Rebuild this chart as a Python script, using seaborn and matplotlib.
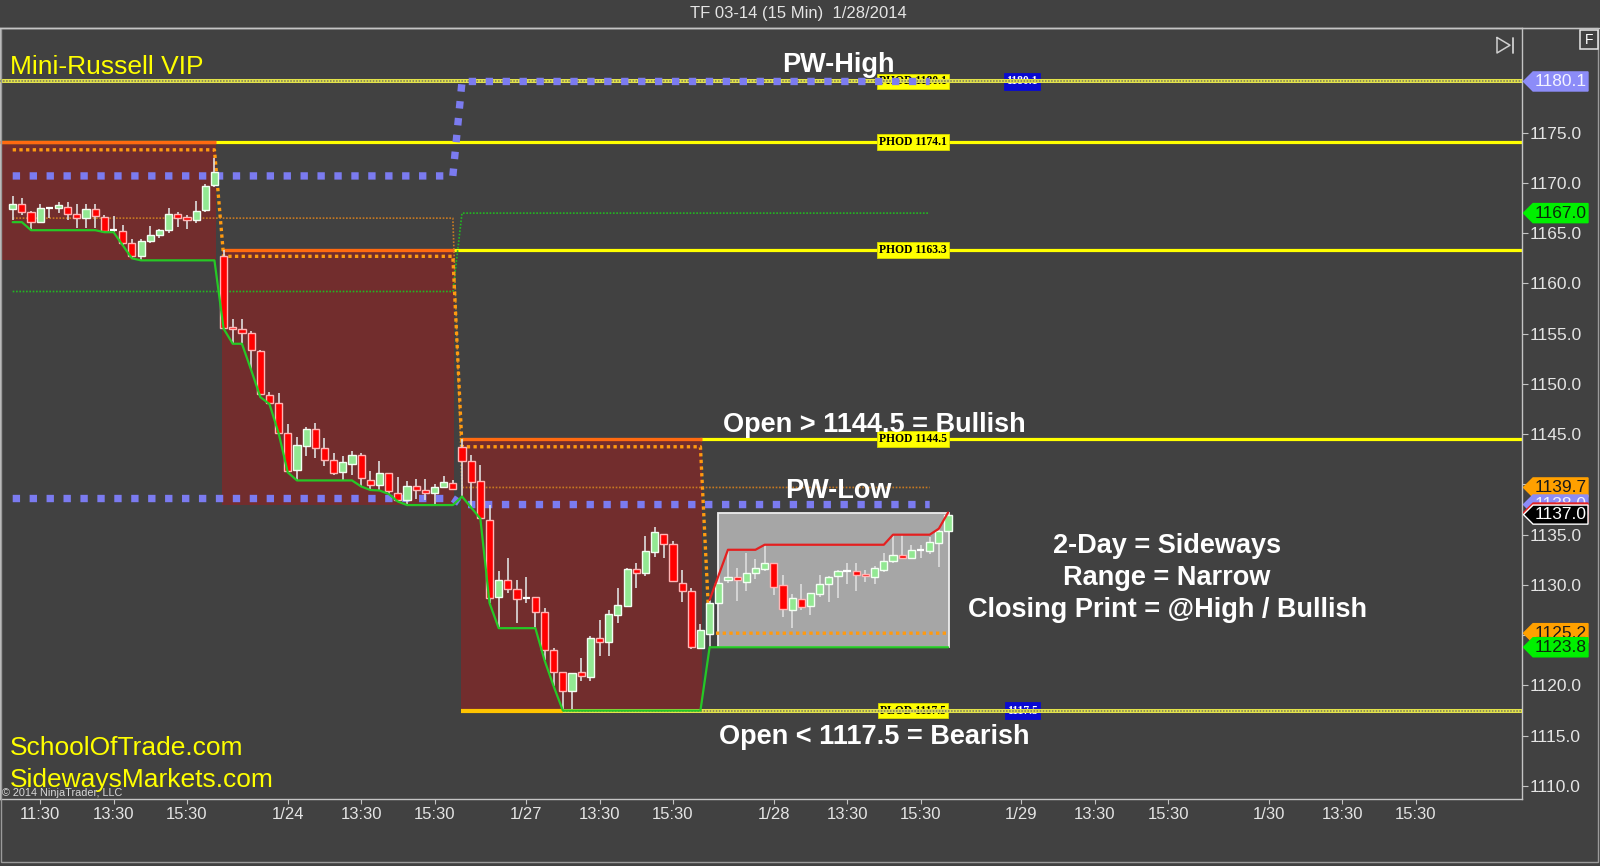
import numpy as np
import matplotlib
matplotlib.use("Agg")
import matplotlib.pyplot as plt
import seaborn as sns
from matplotlib.patches import Rectangle, Polygon
from matplotlib.lines import Line2D
from matplotlib.transforms import blended_transform_factory

# ---------------- values ----------------
day_labels = ["1/23", "1/24", "1/27", "1/28", "1/29", "1/30"]
bars_per_day = [23, 26, 27, 27]      # 15 min bars drawn for each traded day
first_slot = [4, 0, 0, 0]            # 1/23 is cut off: first bar shown is 10:45
session_bars = 27                    # 9:45 .. 16:15
tick_slots = [7, 15, 23]
tick_times = ["11:30", "13:30", "15:30"]

opens = [
    1167.4, 1167.9, 1167.1, 1166.1, 1167.5, 1167.5, 1167.6, 1166.9, 1166.5, 1167.4, 1166.6, 1165.3,
    1165.2, 1164.0, 1162.7, 1164.2, 1164.8, 1165.3, 1166.9, 1166.6, 1166.3, 1167.3, 1169.8,
    1162.7, 1155.7, 1155.5, 1155.1, 1153.3, 1148.9, 1148.1, 1145.1, 1141.4, 1143.85, 1145.5, 1143.6,
    1142.4, 1141.2, 1142.0, 1142.9, 1140.4, 1139.9, 1141.1, 1139.1, 1138.45, 1139.8, 1139.45, 1139.1,
    1139.7, 1140.1,
    1143.75, 1142.3, 1140.3, 1136.5, 1128.8, 1130.5, 1129.6, 1128.7, 1128.8, 1127.3, 1123.5, 1121.3,
    1119.45, 1121.3, 1120.8, 1124.7, 1124.3, 1127.0, 1127.9, 1131.55, 1131.2, 1133.3, 1135.1, 1134.1,
    1130.2, 1129.4, 1123.7,
    1125.1, 1128.2, 1130.5, 1130.8, 1130.3, 1131.15, 1131.6, 1132.15, 1130.0, 1127.5, 1128.6, 1127.9,
    1129.1, 1130.1, 1130.9, 1131.4, 1131.35, 1131.1, 1130.8, 1131.5, 1132.4, 1132.95, 1132.65, 1133.5,
    1133.4, 1134.2, 1135.4,
]
highs = [
    1168.7, 1168.5, 1167.2, 1167.9, 1167.6, 1168.1, 1168.1, 1167.9, 1167.9, 1167.9, 1166.8, 1166.7,
    1165.8, 1164.4, 1164.4, 1165.7, 1165.4, 1167.5, 1167.1, 1166.8, 1168.2, 1169.9, 1172.5,
    1163.3, 1156.5, 1156.5, 1155.3, 1153.4, 1149.2, 1149.1, 1146.0, 1144.75, 1145.75, 1146.1, 1144.6,
    1143.1, 1142.8, 1143.3, 1143.1, 1141.3, 1142.3, 1141.1, 1140.7, 1140.3, 1140.5, 1140.5, 1140.05,
    1140.8, 1140.4,
    1144.5, 1142.9, 1141.9, 1137.95, 1131.4, 1132.65, 1130.5, 1130.8, 1128.8, 1127.7, 1123.7, 1121.3,
    1121.2, 1122.7, 1124.9, 1126.5, 1127.5, 1129.7, 1131.65, 1132.15, 1134.9, 1135.8, 1135.1, 1134.4,
    1131.5, 1129.7, 1126.1,
    1128.5, 1131.0, 1133.5, 1131.65, 1133.15, 1132.6, 1134.0, 1132.15, 1131.0, 1129.1, 1130.1, 1129.2,
    1131.0, 1130.9, 1131.5, 1132.2, 1132.2, 1131.5, 1131.9, 1133.15, 1135.0, 1135.0, 1134.0, 1134.0,
    1134.8, 1135.6, 1137.2,
]
lows = [
    1166.3, 1166.8, 1165.3, 1166.1, 1166.5, 1167.0, 1166.3, 1165.5, 1165.5, 1165.5, 1165.1, 1165.1,
    1163.8, 1162.5, 1162.3, 1164.0, 1164.5, 1165.0, 1165.6, 1165.4, 1166.0, 1167.1, 1169.6,
    1155.5, 1154.0, 1154.0, 1151.4, 1148.7, 1148.0, 1145.1, 1141.2, 1140.4, 1142.8, 1142.6, 1141.8,
    1140.9, 1140.4, 1140.9, 1139.8, 1139.45, 1139.4, 1139.05, 1138.3, 1137.95, 1138.6, 1138.5, 1137.95,
    1139.6, 1139.45,
    1138.8, 1137.7, 1136.6, 1128.2, 1125.7, 1129.15, 1126.2, 1128.2, 1125.7, 1122.5, 1119.9, 1117.5,
    1117.7, 1120.4, 1120.4, 1122.9, 1122.9, 1126.25, 1127.8, 1129.7, 1130.9, 1132.8, 1132.65, 1130.4,
    1128.3, 1123.6, 1123.6,
    1123.8, 1128.1, 1130.2, 1128.4, 1129.4, 1130.55, 1131.4, 1129.0, 1126.8, 1125.7, 1127.5, 1127.0,
    1128.8, 1128.3, 1128.7, 1130.1, 1129.4, 1130.3, 1130.1, 1131.3, 1132.15, 1132.55, 1132.55, 1132.65,
    1133.1, 1131.8, 1135.3,
]
closes = [
    1167.9, 1167.1, 1166.1, 1167.5, 1167.5, 1167.8, 1166.9, 1166.5, 1167.4, 1166.7, 1165.2, 1165.3,
    1164.0, 1162.7, 1164.2, 1164.8, 1165.3, 1166.9, 1166.5, 1166.3, 1167.2, 1169.7, 1171.1,
    1155.6, 1155.5, 1155.1, 1153.4, 1149.0, 1148.1, 1145.15, 1141.3, 1143.9, 1145.5, 1143.6, 1142.4,
    1141.1, 1142.2, 1142.9, 1140.6, 1139.9, 1141.1, 1139.3, 1138.5, 1139.8, 1139.45, 1139.1, 1139.7,
    1140.2, 1139.55,
    1142.3, 1140.2, 1136.63, 1128.7, 1130.5, 1129.6, 1128.6, 1128.7, 1127.3, 1123.5, 1121.3, 1119.4,
    1121.2, 1120.9, 1124.7, 1124.3, 1127.1, 1128.0, 1131.6, 1131.2, 1133.4, 1135.3, 1134.1, 1130.4,
    1129.4, 1123.8, 1125.5,
    1128.2, 1130.2, 1130.8, 1130.5, 1131.15, 1131.65, 1132.2, 1129.8, 1127.6, 1128.7, 1127.8, 1129.2,
    1130.05, 1130.8, 1131.4, 1131.4, 1130.95, 1130.9, 1131.65, 1132.4, 1132.95, 1132.7, 1133.5, 1133.5,
    1134.3, 1135.4, 1137.0,
]

day1_high_before = 1174.1   # 1/23 high and low made before the first bar on screen
day1_low_before = 1166.1

pw_high = [1170.7, 1170.7, 1180.1, 1180.1]        # blue squares, per day
pw_low = [1138.6, 1138.6, 1138.0, 1138.0]
pivot_orange = [1166.5, 1166.5, 1139.7, 1139.7]   # thin dotted lines
pivot_green = [1159.2, 1159.2, 1167.0, 1167.0]
trail_orange = [1173.3, 1162.7, 1143.75, 1125.2]  # thick orange dots

level_names = ["PHOD 1180.1", "PHOD 1174.1", "PHOD 1163.3", "PHOD 1144.5", "PLOD 1117.5"]
level_values = [1180.1, 1174.1, 1163.3, 1144.5, 1117.5]
level_dotted = [True, False, False, False, True]
blue_tags = [1180.1, 1117.5]

# ---------------- derived series ----------------
n = len(opens)
assert n == sum(bars_per_day) == len(highs) == len(lows) == len(closes)
o, h, l, c = (np.array(v) for v in (opens, highs, lows, closes))
x = np.arange(n)
day_start = np.concatenate([[0], np.cumsum(bars_per_day)[:-1]])
day_end = day_start + np.array(bars_per_day) - 1
per_bar = lambda vals: np.repeat(vals, bars_per_day)

run_low = np.empty(n)
run_high = np.empty(n)
for d, (s, e) in enumerate(zip(day_start, day_end)):
    lo = l[s:e + 1].copy()
    hi = h[s:e + 1].copy()
    if d == 0:
        lo = np.minimum(lo, day1_low_before)
        hi = np.maximum(hi, day1_high_before)
    run_low[s:e + 1] = np.minimum.accumulate(lo)
    run_high[s:e + 1] = np.maximum.accumulate(hi)
d_low = run_low[day_end]
d_high = run_high[day_end]

origins = [s - f for s, f in zip(day_start, first_slot)]
while len(origins) < len(day_labels):
    origins.append(origins[-1] + session_bars)
tick_pos, tick_lab = [], []
for d, org in enumerate(origins):
    for j, slot in enumerate(tick_slots):
        tick_pos.append(org + slot)
        tick_lab.append(tick_times[j] if (j > 0 or d == 0) else day_labels[d])

# ---------------- style ----------------
BG = "#414141"
FRAME = "#c4c4c4"
TXT = "#e4e4e4"
X_LEFT, X_RIGHT = -1.385, 164.54
Y_LOW, Y_HIGH = 1108.70, 1185.47

sns.set_style("dark", rc={"axes.facecolor": BG, "figure.facecolor": BG,
                          "axes.edgecolor": FRAME, "axes.grid": False,
                          "xtick.color": FRAME, "ytick.color": FRAME,
                          "text.color": TXT})
plt.rcParams["font.family"] = ["Liberation Sans", "DejaVu Sans"]

fig = plt.figure(figsize=(16, 8.66), dpi=100)
ax = fig.add_axes([0.0, 1 - 799 / 866, 1521.5 / 1600, (799 - 27.5) / 866])
ax.set_xlim(X_LEFT, X_RIGHT)
ax.set_ylim(Y_LOW, Y_HIGH)

# day boxes
for d in range(3):
    left = X_LEFT if d == 0 else day_start[d] - 0.15
    right = day_end[d] + 0.15
    ax.add_patch(Rectangle((left, d_low[d]), right - left, d_high[d] - d_low[d],
                           fc="#722d2d", ec="none", zorder=1))
    ax.hlines(d_high[d], left, right, color="#ff6a10", lw=2.4, zorder=3.2)
s4, e4 = day_start[3], day_end[3]
ax.add_patch(Rectangle((s4 + 0.95, d_low[3]), e4 + 0.1 - (s4 + 0.95), d_high[3] - d_low[3],
                       fc="#a6a6a6", ec="#eeeeee", lw=1.3, zorder=1))

# prior high / low levels
serif = ["Liberation Serif", "DejaVu Serif"]
level_from = [X_LEFT, X_LEFT, day_end[1], day_end[2],
              day_start[2] + int(np.argmin(l[day_start[2]:day_end[2] + 1]))]
for name, val, dotted, x0 in zip(level_names, level_values, level_dotted, level_from):
    if dotted:
        ax.hlines(val, x0, X_RIGHT, color="#e2e24a", lw=2.9, zorder=4)
        ax.hlines(val, x0, X_RIGHT, color="#77775a", lw=1.1, linestyles=(0, (1, 1)), zorder=4.1)
    else:
        ax.hlines(val, x0, X_RIGHT, color="#ffff00", lw=2.3, zorder=2)
    ax.text(98.2, val, name, ha="center", va="center", fontsize=8.4, fontweight="bold",
            family=serif, color="black", zorder=3,
            bbox=dict(boxstyle="square,pad=0.16", fc="#ffff00", ec="#d8d800", lw=0.6))
low3 = level_from[-1]
ax.hlines(level_values[-1], day_start[2] - 0.15, low3, color="#ffc400", lw=3.0, zorder=3.2)
for val in blue_tags:
    ax.text(110.1, val, f"{val:.1f}", ha="center", va="center", fontsize=8.4, fontweight="bold",
            family=serif, color="white", zorder=3,
            bbox=dict(boxstyle="square,pad=0.2", fc="#0a0ad0", ec="#0a0ad0", lw=0.6))

# indicator lines (they stop two bars before the last bar)
xi = x[: n - 2]
sns.lineplot(x=xi, y=per_bar(pivot_orange)[: n - 2], ax=ax, color="#c87a22", lw=1.2,
             linestyle=(0, (1, 1)), estimator=None, sort=False, zorder=3.5)
sns.lineplot(x=xi, y=per_bar(pivot_green)[: n - 2], ax=ax, color="#22b822", lw=1.2,
             linestyle=(0, (1, 1)), estimator=None, sort=False, zorder=3.5)
sns.lineplot(x=xi, y=per_bar(pw_high)[: n - 2], ax=ax, color="#7b7bf0", lw=5.3,
             linestyle=(0, (1, 1.3)), estimator=None, sort=False, zorder=4.5)
sns.lineplot(x=xi, y=per_bar(pw_low)[: n - 2], ax=ax, color="#7b7bf0", lw=5.3,
             linestyle=(0, (1, 1.3)), estimator=None, sort=False, zorder=4.5)
sns.lineplot(x=x, y=per_bar(trail_orange), ax=ax, color="#ff9a10", lw=2.4,
             linestyle=(0, (1, 1)), estimator=None, sort=False, zorder=5.5)

# candles
up = c > o + 0.04
dn = c < o - 0.04
flat = ~(up | dn)
ax.vlines(x, l, h, color="#dedede", lw=1.2, zorder=6)
ax.bar(x[up], (c - o)[up], bottom=o[up], width=0.78, color="#92e892",
       edgecolor="#f4fff4", lw=1.0, zorder=6.5)
ax.bar(x[dn], (c - o)[dn], bottom=o[dn], width=0.78, color="#ff0000",
       edgecolor="#ffb4b4", lw=1.0, zorder=6.5)
ax.hlines(c[flat], x[flat] - 0.4, x[flat] + 0.4, color="white", lw=1.6, zorder=6.5)

# running low (all days) and running high (current day)
sns.lineplot(x=x, y=run_low, ax=ax, color="#26c826", lw=1.6, estimator=None, sort=False, zorder=7)
sns.lineplot(x=x[s4:], y=run_high[s4:], ax=ax, color="#e42020", lw=1.6, estimator=None,
             sort=False, zorder=7)

# axes, ticks
for sp in ax.spines.values():
    sp.set_color(FRAME)
    sp.set_linewidth(1.0)
ax.yaxis.tick_right()
ax.set_yticks(np.arange(1110, 1176, 5))
ax.set_yticklabels([f"{v:.1f}" for v in np.arange(1110, 1176, 5)])
ax.set_xticks(tick_pos)
ax.set_xticklabels(tick_lab)
ax.tick_params(axis="y", right=True, left=False, length=4.5, width=0.8, pad=1.5,
               labelsize=12.5, labelcolor=TXT)
ax.tick_params(axis="x", bottom=True, length=3.8, width=0.8, pad=2, labelsize=12,
               labelcolor=TXT)
ax.set_xlabel("")
ax.set_ylabel("")

# last value flags on the price axis (they overlap each other as in the original)
ftr = blended_transform_factory(ax.transAxes, ax.transData)
flags = [
    (pw_high[-1], "#8c8cf8", "#f2f2ff", "#8c8cf8"),
    (pivot_green[-1], "#00f000", "#0a2a0a", "#00f000"),
    (pivot_orange[-1], "#ffa000", "#1a1a1a", "#ffa000"),
    (pw_low[-1], "#8c8cf8", "#f2f2ff", "#8c8cf8"),
    (run_high[-1], "#e42020", "#ffffff", "#e42020"),
    (c[-1], "#000000", "#ffffff", "#ffffff"),
    (trail_orange[-1], "#ffa000", "#1a1a1a", "#ffa000"),
    (run_low[-1], "#00f000", "#0a2a0a", "#00f000"),
]
for k, (val, face, tcol, edge) in enumerate(flags):
    hh = 0.95
    pts = [(1.0013, val), (1.0076, val + hh), (1.0437, val + hh),
           (1.0437, val - hh), (1.0076, val - hh)]
    ax.add_patch(Polygon(pts, closed=True, transform=ftr, fc=face, ec=edge, lw=1.0,
                         clip_on=False, zorder=20 + k))
    ax.text(1.0258, val, f"{val:.1f}", transform=ftr, ha="center", va="center",
            fontsize=12.5, color=tcol, clip_on=False, zorder=20.5 + k)

# chart annotations
bold = dict(color="white", fontsize=19.5, fontweight="bold", ha="center", va="baseline", zorder=30)
ax.text(90.0, 1181.04, "PW-High", **bold)
ax.text(94.0, 1145.25, "Open > 1144.5 = Bullish", **bold)
ax.text(90.0, 1138.70, "PW-Low", **bold)
ax.text(125.9, 1133.15, "2-Day = Sideways", **bold)
ax.text(125.9, 1129.99, "Range = Narrow", **bold)
ax.text(125.9, 1126.84, "Closing Print = @High / Bullish", **bold)
ax.text(94.0, 1114.14, "Open < 1117.5 = Bearish", **bold)

fx = lambda px: px / 1600
fy = lambda py: 1 - py / 866
fig.text(fx(10), fy(73.5), "Mini-Russell VIP", color="#ffff00", fontsize=19, va="baseline")
fig.text(fx(10), fy(755), "SchoolOfTrade.com", color="#ffff00", fontsize=19, va="baseline")
fig.text(fx(10), fy(786.5), "SidewaysMarkets.com", color="#ffff00", fontsize=19, va="baseline")
fig.text(fx(2), fy(796), "\u00a9 2014 NinjaTrader, LLC", color="#d8d8d8", fontsize=7.8, va="baseline")
fig.text(fx(798), fy(13.5), "TF 03-14 (15 Min)  1/28/2014", color=TXT, fontsize=12,
         ha="center", va="center")

# frame and toolbar glyphs
fig.add_artist(Line2D([fx(0), fx(1600)], [fy(27.5), fy(27.5)], color=FRAME, lw=1.0))
fig.add_artist(Rectangle((fx(0.5), fy(862)), fx(1597.5), fy(27.5) - fy(862), fill=False,
                         ec="#9a9a9a", lw=1.0, transform=fig.transFigure))
fig.add_artist(Line2D([fx(1497), fx(1497), fx(1510), fx(1497)], [fy(37.5), fy(53), fy(45.2), fy(37.5)],
                      color="#cfcfcf", lw=1.1))
fig.add_artist(Line2D([fx(1513), fx(1513)], [fy(37.5), fy(53)], color="#cfcfcf", lw=1.3))
fig.add_artist(Rectangle((fx(1580), fy(49)), fx(18), fy(30.5) - fy(49), fill=False,
                         ec="#e6e6e6", lw=1.1, transform=fig.transFigure))
fig.text(fx(1589), fy(40), "F", color="white", fontsize=10, ha="center", va="center")

fig.savefig("out.png", dpi=100, facecolor=BG)
